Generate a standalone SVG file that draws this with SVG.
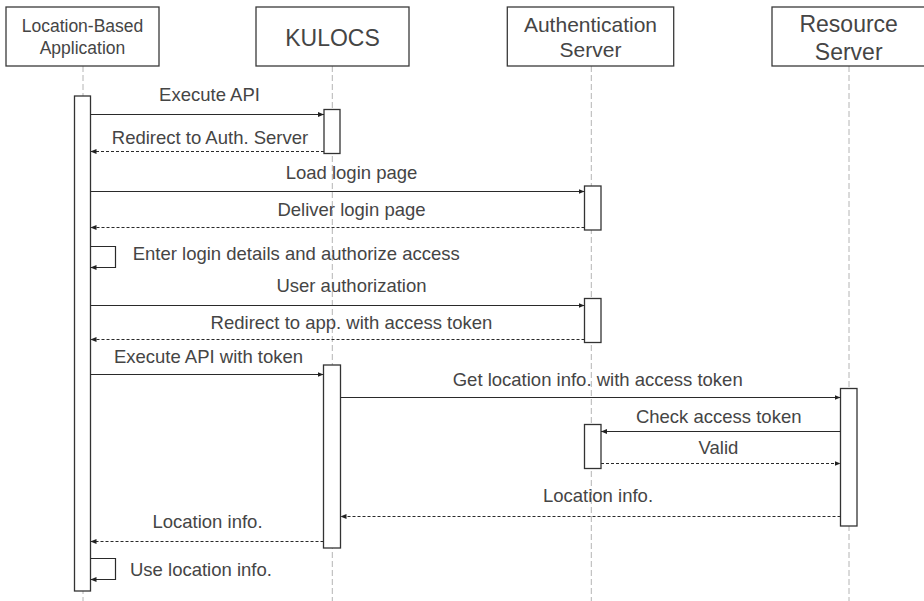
<svg xmlns="http://www.w3.org/2000/svg" width="924" height="601" viewBox="0 0 924 601">
  <style>
    text { font-family: "Liberation Sans", Arial, Helvetica, sans-serif; fill: #454545; }
    .head { fill: #ffffff; stroke: #3a3a3a; stroke-width: 1.3; }
    .life { stroke: #b4b4b4; stroke-width: 1; stroke-dasharray: 6 3; fill: none; }
    .act { fill: #ffffff; stroke: #333333; stroke-width: 1.3; }
    .msg { fill: none; stroke: #2a2a2a; stroke-width: 1.2; marker-end: url(#ah); }
    .ret { fill: none; stroke: #2a2a2a; stroke-width: 1.1; stroke-dasharray: 3 2; marker-end: url(#ah); }
    .lbl { font-size: 18.5px; text-anchor: middle; }
    .lbs { font-size: 18.5px; text-anchor: start; }
  </style>
  <defs>
    <marker id="ah" viewBox="0 0 6 6" refX="6" refY="3" markerWidth="6" markerHeight="6" orient="auto" markerUnits="userSpaceOnUse">
      <path d="M0,0.6 L6,3 L0,5.4 z" fill="#222222"/>
    </marker>
  </defs>

  <rect width="924" height="601" fill="#ffffff"/>

  <!-- participant: Location-Based Application -->
  <g id="app">
    <line class="life" x1="83" y1="66" x2="83" y2="601"/>
    <rect class="head" x="6" y="7" width="153" height="59"/>
    <text x="82.5" y="32.3" text-anchor="middle" font-size="17.5">Location-Based</text>
    <text x="82.5" y="54.3" text-anchor="middle" font-size="17.5">Application</text>
    <rect class="act" x="74.5" y="96" width="16" height="495"/>
  </g>

  <!-- participant: KULOCS -->
  <g id="kulocs">
    <line class="life" x1="332.3" y1="66" x2="332.3" y2="601"/>
    <rect class="head" x="256" y="7" width="153" height="59"/>
    <text x="332.5" y="45.7" text-anchor="middle" font-size="23">KULOCS</text>
    <rect class="act" x="324" y="109.5" width="16" height="44"/>
    <rect class="act" x="323.5" y="365" width="17" height="183"/>
  </g>

  <!-- participant: Authentication Server -->
  <g id="auth">
    <line class="life" x1="591.3" y1="66" x2="591.3" y2="601"/>
    <rect class="head" x="507.3" y="7" width="166.4" height="59"/>
    <text x="590.5" y="32.3" text-anchor="middle" font-size="21">Authentication</text>
    <text x="590.5" y="56.7" text-anchor="middle" font-size="21">Server</text>
    <rect class="act" x="584.5" y="186" width="16.5" height="44"/>
    <rect class="act" x="584.5" y="298.5" width="16.5" height="44"/>
    <rect class="act" x="584.5" y="424.5" width="16.5" height="44"/>
  </g>

  <!-- participant: Resource Server -->
  <g id="resource">
    <line class="life" x1="849" y1="66" x2="849" y2="601"/>
    <rect class="head" x="772" y="7" width="156" height="59"/>
    <text x="848.7" y="31.7" text-anchor="middle" font-size="23">Resource</text>
    <text x="848.7" y="60" text-anchor="middle" font-size="23">Server</text>
    <rect class="act" x="840.5" y="388.5" width="16.5" height="137.5"/>
  </g>

  <!-- messages -->
  <g id="connectors">
    <path class="msg" d="M90.5,114.5 H324"/>
    <text class="lbl" x="209.5" y="100.7">Execute API</text>

    <path class="ret" d="M324,151.5 H90.5"/>
    <text class="lbl" x="210" y="144.3">Redirect to Auth. Server</text>

    <path class="msg" d="M90.5,191.5 H584.5"/>
    <text class="lbl" x="351.5" y="179">Load login page</text>

    <path class="ret" d="M584.5,227.5 H90.5"/>
    <text class="lbl" x="351.5" y="216">Deliver login page</text>

    <path class="msg" d="M90.5,246.5 H115.5 V267.5 H90.5"/>
    <text class="lbs" x="132.7" y="260">Enter login details and authorize access</text>

    <path class="msg" d="M90.5,305.5 H584.5"/>
    <text class="lbl" x="351.5" y="292.3">User authorization</text>

    <path class="ret" d="M584.5,339.5 H90.5"/>
    <text class="lbl" x="351.5" y="329">Redirect to app. with access token</text>

    <path class="msg" d="M90.5,374.5 H323.5"/>
    <text class="lbl" x="208.5" y="363.3">Execute API with token</text>

    <path class="msg" d="M340.5,397.5 H840.5"/>
    <text class="lbl" x="597.7" y="385.7">Get location info. with access token</text>

    <path class="msg" d="M840.5,431.5 H601"/>
    <text class="lbl" x="718.7" y="422.7">Check access token</text>

    <path class="ret" d="M601,463.5 H840.5"/>
    <text class="lbl" x="718.5" y="454">Valid</text>

    <path class="ret" d="M840.5,516.5 H340.5"/>
    <text class="lbl" x="598" y="502.3">Location info.</text>

    <path class="ret" d="M323.5,541.5 H90.5"/>
    <text class="lbl" x="207.5" y="528.3">Location info.</text>

    <path class="msg" d="M90.5,558.5 H115.5 V579.5 H90.5"/>
    <text class="lbs" x="130" y="575.7">Use location info.</text>
  </g>
</svg>
